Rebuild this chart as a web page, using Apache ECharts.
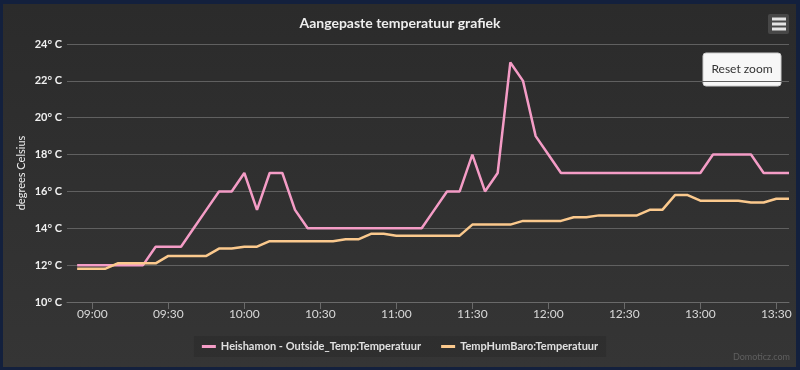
<!DOCTYPE html>
<html><head><meta charset="utf-8">
<script src="https://cdn.jsdelivr.net/npm/echarts@6/dist/echarts.min.js"></script>
<style>
html,body{margin:0;padding:0;background:#13203d;width:800px;height:370px;overflow:hidden;}
#bg{position:absolute;left:3px;top:4px;width:793px;height:363px;background:linear-gradient(#2b2b2b,#353535);}
#chart{position:absolute;left:0;top:0;width:800px;height:370px;}
</style></head><body><div id="bg"></div><div id="chart"></div>
<script>
const times = ['08:54','09:00','09:05','09:10','09:15','09:20','09:25','09:30','09:35','09:40','09:45','09:50','09:55',
  '10:00','10:05','10:10','10:15','10:20','10:25','10:30','10:35','10:40','10:45','10:50','10:55',
  '11:00','11:05','11:10','11:15','11:20','11:25','11:30','11:35','11:40','11:45','11:50','11:55',
  '12:00','12:05','12:10','12:15','12:20','12:25','12:30','12:35','12:40','12:45','12:50','12:55',
  '13:00','13:05','13:10','13:15','13:20','13:25','13:30','13:35'];
const outsideTemp = [12,12,12,12,12,12,13,13,13,14,15,16,16,
  17,15,17,17,15,14,14,14,14,14,14,14,
  14,14,14,15,16,16,18,16,17,23,22,19,
  18,17,17,17,17,17,17,17,17,17,17,17,
  17,18,18,18,18,17,17,17];
const tempHumBaro = [11.8,11.8,11.8,12.1,12.1,12.1,12.1,12.5,12.5,12.5,12.5,12.9,12.9,
  13.0,13.0,13.3,13.3,13.3,13.3,13.3,13.3,13.4,13.4,13.7,13.7,
  13.6,13.6,13.6,13.6,13.6,13.6,14.2,14.2,14.2,14.2,14.4,14.4,
  14.4,14.4,14.6,14.6,14.7,14.7,14.7,14.7,15.0,15.0,15.8,15.8,
  15.5,15.5,15.5,15.5,15.4,15.4,15.6,15.6];
const xTickLabels = ['09:00','09:30','10:00','10:30','11:00','11:30','12:00','12:30','13:00','13:30'];
const yTicks = [10,12,14,16,18,20,22,24];
const seriesNames = ['Heishamon - Outside_Temp:Temperatuur','TempHumBaro:Temperatuur'];

const toMin = s => { const p = s.split(':'); return (+p[0])*60 + (+p[1]); };
const toHHMM = v => { const h = Math.floor(v/60), m = Math.round(v%60); return String(h).padStart(2,'0')+':'+String(m).padStart(2,'0'); };
const tickVals = xTickLabels.map(toMin);
const FONT = 'Lato, "Open Sans", sans-serif';

const chart = echarts.init(document.getElementById('chart'), null, {renderer:'canvas'});
chart.setOption({
  backgroundColor: 'transparent',
  animation: false,
  title: {
    text: 'Aangepaste temperatuur grafiek', left: 'center', top: 11,
    textStyle: {color:'#eeeeee', fontSize:14, fontWeight:'bold', fontFamily:FONT}
  },
  legend: {
    data: seriesNames, left: 'center', top: 336,
    icon: 'rect', itemWidth: 14, itemHeight: 3, itemGap: 20,
    backgroundColor: 'rgba(0,0,0,0.10)', padding: [5, 8],
    textStyle: {color:'#e0e0e0', fontSize:11, fontWeight:'bold', fontFamily:FONT}
  },
  grid: {left:67, right:11, top:44, bottom:68},
  xAxis: {
    type: 'value', min: toMin('08:50'), max: toMin('13:35'),
    splitLine: {show:false},
    axisLine: {show:true, lineStyle:{color:'#6a6a6a', width:1}},
    axisTick: {show:true, customValues: tickVals, length: 7, lineStyle:{color:'#6a6a6a'}},
    axisLabel: {customValues: tickVals, formatter: v => toHHMM(v), color:'#d8d8d8', fontSize:12, fontFamily:FONT, margin:6}
  },
  yAxis: {
    type: 'value', min: yTicks[0], max: yTicks[yTicks.length-1], interval: 2,
    name: 'degrees Celsius', nameLocation: 'middle', nameGap: 40, nameRotate: 90, nameMoveOverlap: false,
    nameTextStyle: {color:'#eeeeee', fontSize:11, fontFamily:FONT},
    axisLine: {show:false}, axisTick: {show:false},
    splitLine: {lineStyle:{color:'#606060', width:1}},
    axisLabel: {formatter: '{value}° C', color:'#f0f0f0', fontSize:11, fontWeight:'bold', fontFamily:FONT, margin:5}
  },
  series: [
    {name: seriesNames[0], type:'line', symbol:'none', color:'#f49cc6',
     lineStyle:{width:2.5, color:'#f49cc6'},
     data: times.map((t,i)=>[toMin(t), outsideTemp[i]])},
    {name: seriesNames[1], type:'line', symbol:'none', color:'#fbc98d',
     lineStyle:{width:2.5, color:'#fbc98d'},
     data: times.map((t,i)=>[toMin(t), tempHumBaro[i]])}
  ],
  graphic: [
    {type:'rect', shape:{x:768, y:14, width:21, height:20, r:2}, style:{fill:'#474747'}},
    {type:'rect', shape:{x:772, y:17.5, width:14, height:3}, style:{fill:'#e4e4e4'}},
    {type:'rect', shape:{x:772, y:22.5, width:14, height:3}, style:{fill:'#e4e4e4'}},
    {type:'rect', shape:{x:772, y:27.5, width:14, height:3}, style:{fill:'#e4e4e4'}},
    {type:'rect', shape:{x:703, y:53, width:78, height:33, r:3}, style:{fill:'#f7f7f7', stroke:'#cccccc', lineWidth:1}},
    {type:'text', x:742, y:69.5, style:{text:'Reset zoom', fill:'#333333', font:'12px '+FONT, textAlign:'center', textVerticalAlign:'middle'}},
    {type:'text', x:790, y:357, style:{text:'Domoticz.com', fill:'#5f5f5f', font:'9px '+FONT, textAlign:'right', textVerticalAlign:'middle'}}
  ]
});
</script></body></html>
